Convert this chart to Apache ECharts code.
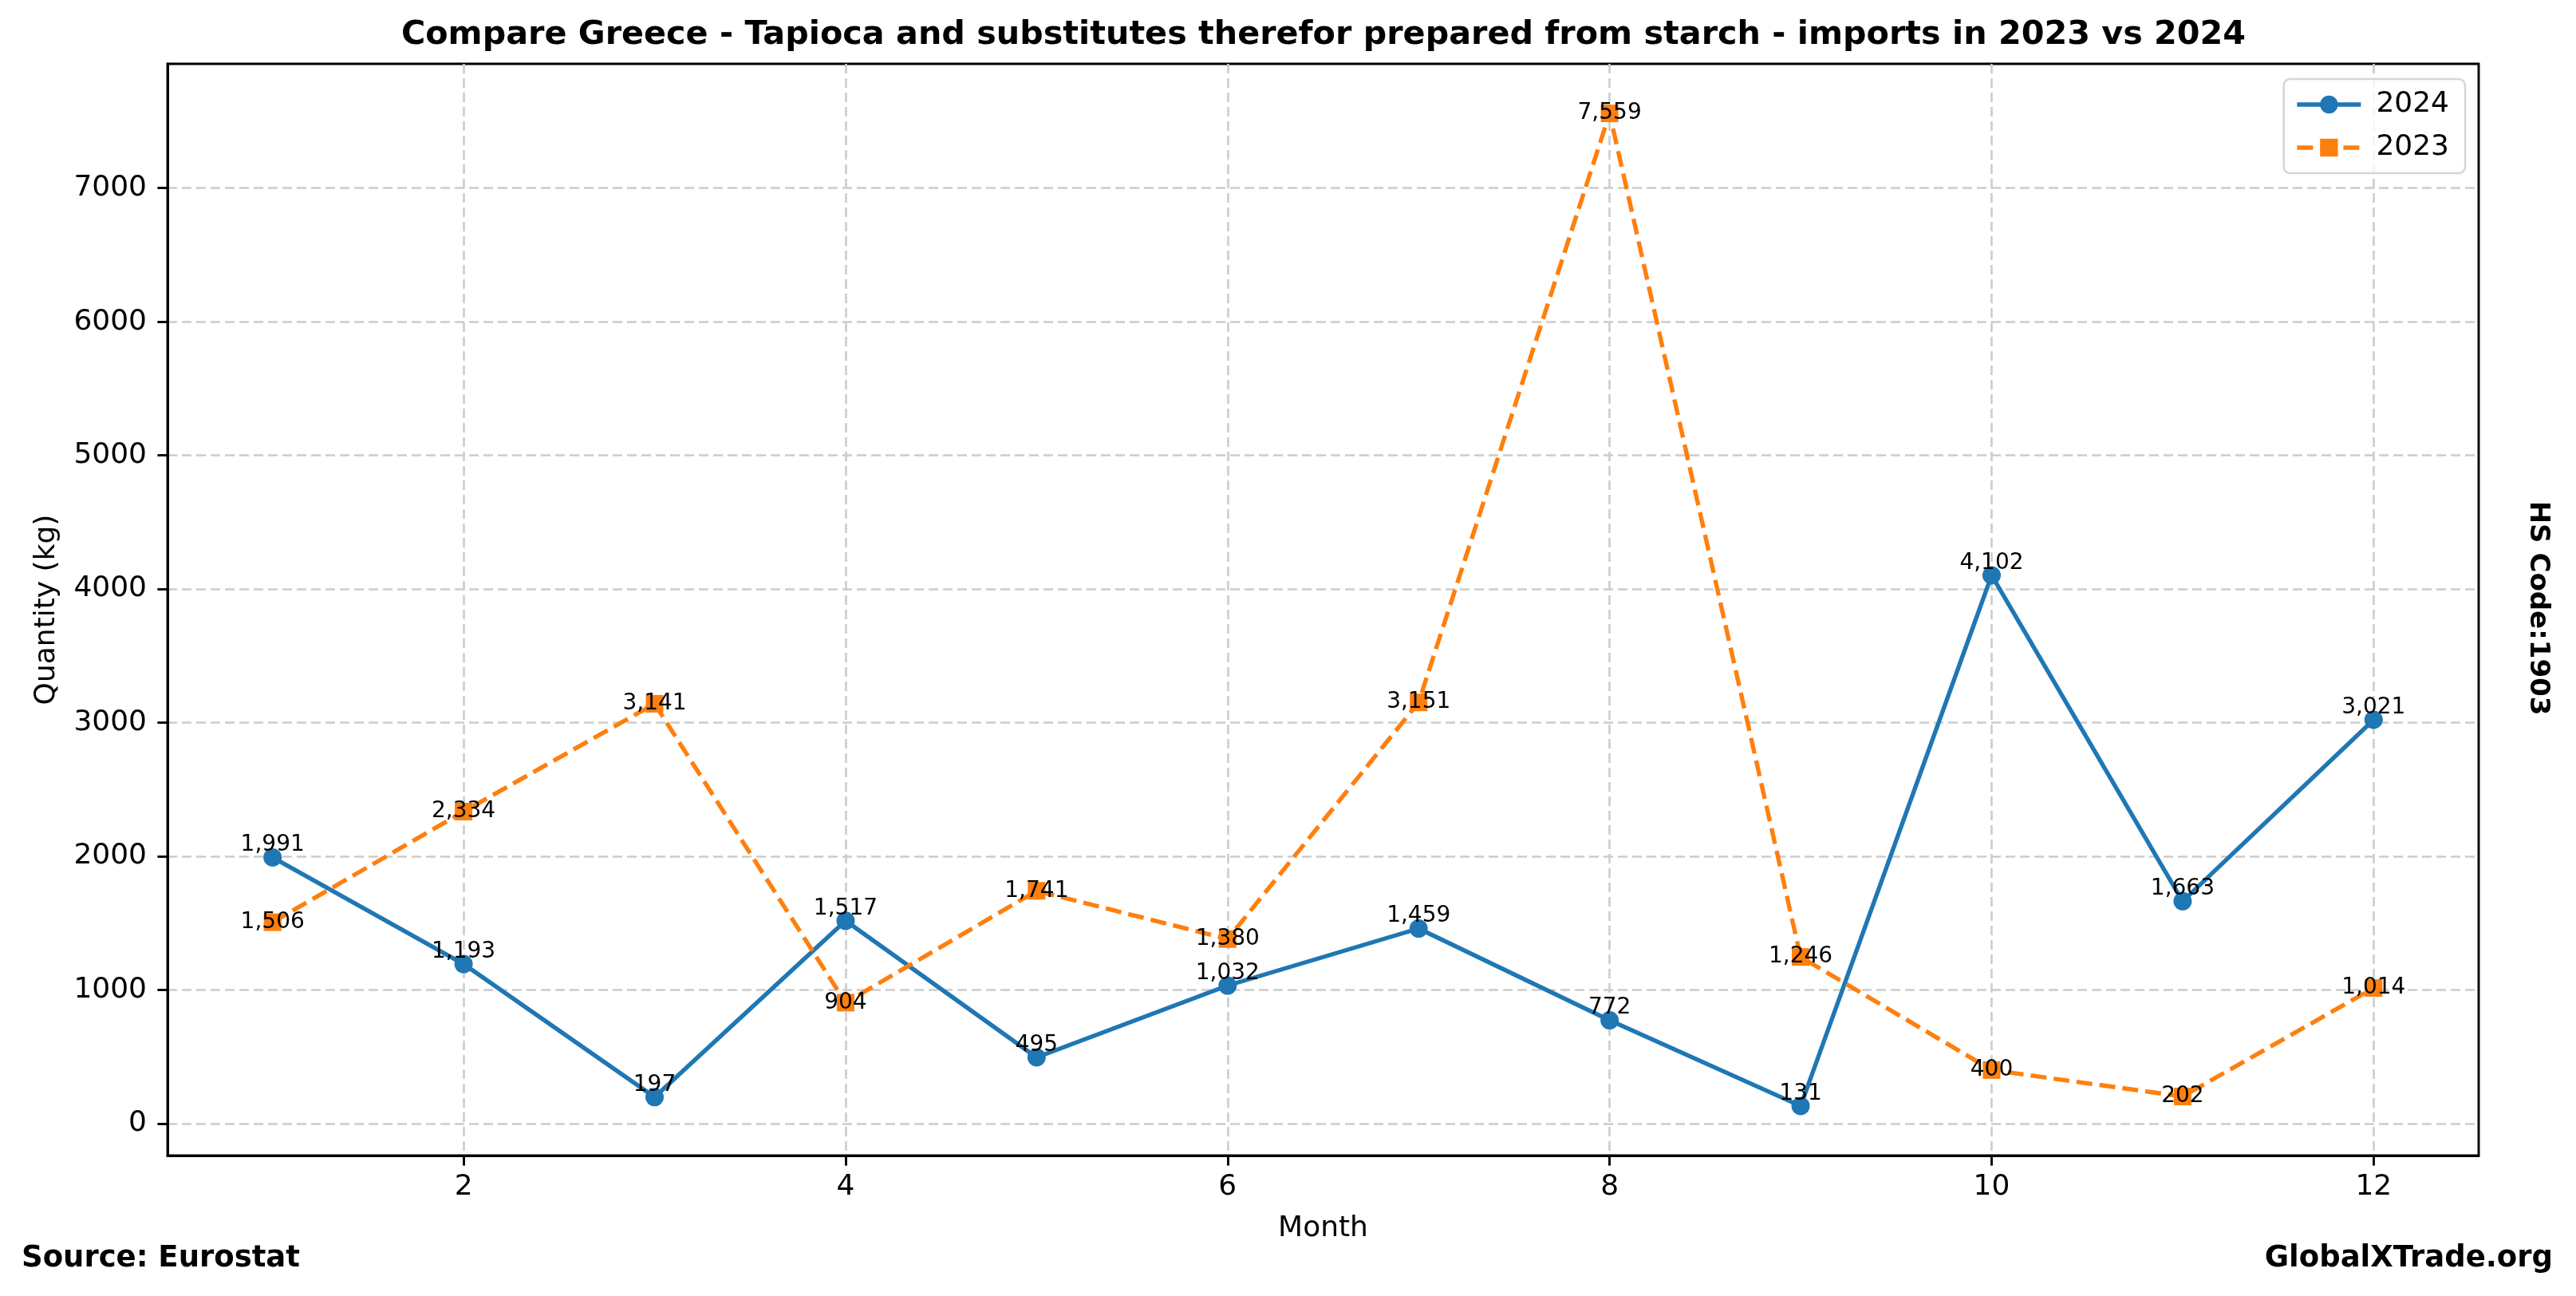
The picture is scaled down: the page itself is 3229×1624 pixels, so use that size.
<!DOCTYPE html>
<html>
<head>
<meta charset="utf-8">
<script src="https://cdn.jsdelivr.net/npm/echarts@6/dist/echarts.min.js"></script>
<style>
html,body{margin:0;padding:0;background:#fff;}
#chart{width:3229px;height:1624px;}
</style>
</head>
<body>
<div id="chart"></div>
<script>
const months = [1,2,3,4,5,6,7,8,9,10,11,12];
const values2024 = [1991,1193,197,1517,495,1032,1459,772,131,4102,1663,3021];
const values2023 = [1506,2334,3141,904,1741,1380,3151,7559,1246,400,202,1014];
const xTicks = [2,4,6,8,10,12];
const yTicks = [0,1000,2000,3000,4000,5000,6000,7000];
const titleText = 'Compare Greece - Tapioca and substitutes therefor prepared from starch - imports in 2023 vs 2024';

const FONT = 'DejaVu Sans';
const fmt = v => v.toLocaleString('en-US');
const pairs = vals => months.map((m,i)=>[m, vals[i]]);

const chart = echarts.init(document.getElementById('chart'), null, {renderer:'canvas'});
const gridStyle = {show:true, lineStyle:{color:'#cccccc', width:2.6, type:[12,6]}};
chart.setOption({
  animation:false,
  backgroundColor:'#ffffff',
  textStyle:{fontFamily:FONT},
  grid:{left:210, right:122, top:80, bottom:176, show:true, borderColor:'#000', borderWidth:2.9, backgroundColor:'transparent'},
  legend:{
    right:139, top:99, orient:'vertical',
    itemWidth:80, itemHeight:28, itemGap:18,
    padding:[14,20,14,14],
    borderColor:'#d5d5d5', borderWidth:2.5, borderRadius:8,
    backgroundColor:'rgba(255,255,255,0.8)',
    lineStyle:{width:5.4},
    textStyle:{fontFamily:FONT, fontSize:36, color:'#000', padding:[0,0,0,14]},
    data:['2024','2023']
  },
  xAxis:{
    type:'value', min:0.45, max:12.55,
    name:'Month', nameLocation:'middle', nameGap:74,
    nameTextStyle:{fontFamily:FONT, fontSize:36, color:'#000'},
    axisLine:{show:true, onZero:false, lineStyle:{color:'#000', width:2.9}},
    axisTick:{show:true, length:12.6, lineStyle:{color:'#000', width:2.9}, customValues:xTicks},
    axisLabel:{fontFamily:FONT, fontSize:36, color:'#000', margin:22, customValues:xTicks, formatter:v=>String(v)},
    splitLine:gridStyle
  },
  yAxis:{
    type:'value', min:-240, max:7930,
    name:'Quantity (kg)', nameLocation:'middle', nameGap:133,
    nameTextStyle:{fontFamily:FONT, fontSize:36, color:'#000'},
    axisLine:{show:true, onZero:false, lineStyle:{color:'#000', width:2.9}},
    axisTick:{show:true, length:12.6, lineStyle:{color:'#000', width:2.9}, customValues:yTicks},
    axisLabel:{fontFamily:FONT, fontSize:36, color:'#000', margin:26, customValues:yTicks, formatter:v=>String(v)},
    splitLine:gridStyle
  },
  series:[
    {
      name:'2024', type:'line', data:pairs(values2024),
      symbol:'circle', symbolSize:23,
      itemStyle:{color:'#1f77b4'},
      lineStyle:{color:'#1f77b4', width:5.4},
      z:2,
      label:{show:true, position:'top', distance:-10, fontFamily:FONT, fontSize:28, color:'#000',
        formatter:p=>fmt(p.value[1])},
      labelLayout:{hideOverlap:false}
    },
    {
      name:'2023', type:'line', data:pairs(values2023),
      symbol:'rect', symbolSize:22,
      itemStyle:{color:'#ff7f0e'},
      lineStyle:{color:'#ff7f0e', width:5.4, type:[20,9]},
      z:3,
      label:{show:true, position:'inside', fontFamily:FONT, fontSize:28, color:'#000',
        formatter:p=>fmt(p.value[1])},
      labelLayout:{hideOverlap:false}
    }
  ],
  graphic:[
    {type:'text', x:1659, y:44,
      style:{text:titleText, fontFamily:FONT, fontWeight:'bold', fontSize:41.3, fill:'#000', align:'center', verticalAlign:'middle'}},
    {type:'text', left:27, top:1559, style:{text:'Source: Eurostat', fontFamily:FONT, fontWeight:'bold', fontSize:37, fill:'#000'}},
    {type:'text', right:29, top:1559, style:{text:'GlobalXTrade.org', fontFamily:FONT, fontWeight:'bold', fontSize:37, fill:'#000'}},
    {type:'text', x:3181, y:762, rotation:-Math.PI/2,
      style:{text:'HS Code:1903', fontFamily:FONT, fontWeight:'bold', fontSize:34, fill:'#000', align:'center', verticalAlign:'middle'}}
  ]
});
</script>
</body>
</html>
